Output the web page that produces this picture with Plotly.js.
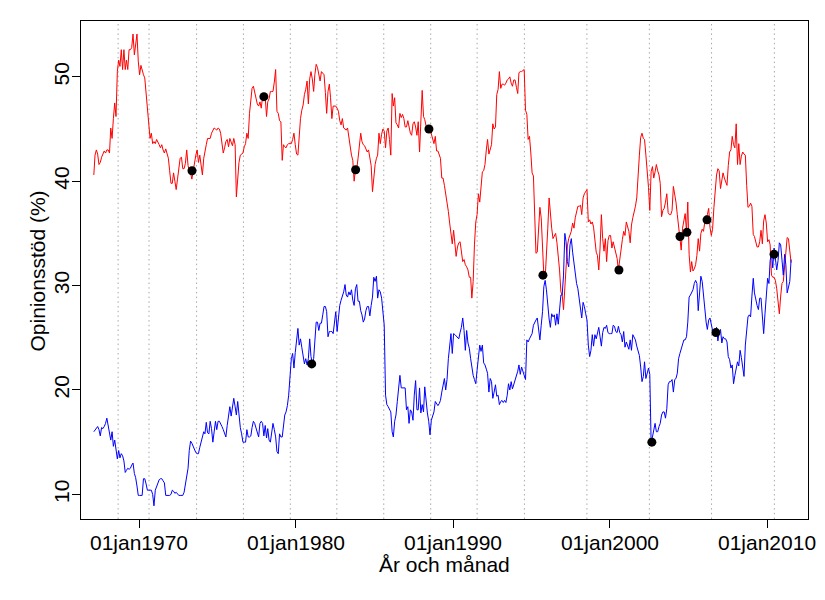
<!DOCTYPE html>
<html>
<head>
<meta charset="utf-8">
<script src="https://cdn.plot.ly/plotly-3.0.1.min.js"></script>
<style>html,body{margin:0;padding:0;background:#fff;}#chart{width:825px;height:600px;}</style>
</head>
<body>
<div id="chart"></div>
<script>
// Monthly poll series, first value = February 1967
const startYear = 1967;
const startMonth = 2;

// Red series (Socialdemokraterna), % support
const redSeries = [
  40.6, 42.5, 43.0, 42.6, 41.6, 41.8, 42.3, 42.6, 42.9, 42.7, 43.0,
  43.0, 42.7, 45.1, 44.1, 46.0, 47.5, 46.2, 50.5, 51.6, 51.0, 52.6, 50.7,
  52.6, 50.7, 51.6, 50.7, 52.6, 52.6, 52.8, 54.1, 52.1, 53.0, 54.1, 51.5,
  50.2, 51.1, 50.6, 50.2, 49.9, 48.6, 47.0, 45.4, 44.1, 44.6, 43.6, 43.8,
  43.6, 44.0, 43.8, 43.5, 43.2, 43.5, 43.0, 42.7, 43.1, 42.6, 42.2, 41.0,
  39.8, 39.8, 40.8, 40.0, 39.2, 40.2, 41.2, 42.2, 42.3, 41.2, 41.2, 41.7,
  43.0, 41.5, 41.0, 40.8, 40.2, 41.0, 42.0, 42.5, 43.0, 41.8, 42.5, 41.5,
  40.6, 42.2, 43.0, 43.5, 44.1, 44.1, 44.1, 44.6, 44.8, 45.1, 45.0, 44.9,
  45.1, 45.0, 44.6, 43.8, 42.7, 43.2, 43.8, 44.0, 43.3, 44.1, 43.6, 43.4,
  44.1, 43.5, 38.5, 40.3, 41.8, 42.5, 42.6, 42.7, 43.3, 43.6, 44.6, 44.1,
  46.5, 48.0, 48.9, 49.1, 48.6, 47.8, 47.4, 47.2, 47.6, 47.0, 48.1, 47.8,
  48.1, 46.2, 47.6, 47.9, 48.6, 48.6, 48.6, 49.5, 50.7, 46.7, 46.5, 45.8,
  45.7, 42.0, 43.5, 43.3, 43.2, 43.5, 43.6, 43.6, 43.6, 44.0, 44.6, 43.5,
  42.6, 42.5, 44.4, 46.0, 46.8, 47.3, 48.3, 48.8, 49.6, 47.4, 49.8, 50.5,
  49.8, 48.6, 50.2, 51.2, 50.9, 50.0, 49.6, 50.5, 50.3, 50.2, 48.5, 46.5,
  48.6, 49.3, 48.0, 46.0, 47.2, 47.2, 47.2, 47.0, 46.7, 45.8, 45.4, 46.0,
  45.1, 45.0, 44.9, 45.1, 44.2, 43.5, 42.5, 42.0, 40.0, 41.1, 41.2, 42.2,
  43.5, 44.6, 43.8, 43.5, 43.4, 43.0, 42.8, 43.0, 42.3, 41.5, 39.0, 40.5,
  41.6, 42.2, 42.5, 44.6, 43.6, 44.5, 45.0, 44.8, 43.2, 44.8, 45.1, 44.0,
  42.5, 48.4, 47.2, 48.0, 45.6, 45.4, 45.1, 46.5, 46.1, 46.4, 46.0, 45.2,
  45.2, 45.8, 45.3, 44.6, 44.4, 45.5, 45.7, 45.2, 44.4, 45.7, 42.8, 45.3,
  48.7, 46.2, 45.9, 45.3, 45.0, 44.8, 45.0, 44.5, 44.0, 43.6, 44.3, 42.9,
  42.9, 42.6, 42.2, 40.3, 40.3, 39.6, 38.9, 38.2, 37.1, 36.0, 34.6, 34.0,
  35.3, 33.5, 32.8, 33.7, 34.1, 34.2, 33.0, 32.3, 32.5, 32.0, 31.8, 31.5,
  30.8, 30.8, 28.8, 30.4, 33.9, 36.1, 36.8, 38.8, 38.0, 40.0, 40.9, 41.0,
  41.6, 43.0, 44.0, 42.6, 43.0, 43.5, 45.5, 45.0, 45.2, 48.3, 48.8, 50.5,
  48.9, 49.3, 49.3, 49.2, 49.4, 49.7, 49.8, 50.0, 49.4, 49.1, 49.7, 49.7,
  49.0, 48.4, 50.4, 50.5, 50.5, 50.6, 50.7, 46.8, 46.4, 44.0, 44.3, 42.8,
  40.8, 40.5, 36.0, 33.1, 33.2, 35.6, 37.5, 36.5, 33.0, 31.0, 30.7, 32.8,
  35.5, 38.4, 36.6, 35.5, 34.5, 34.8, 35.0, 34.1, 33.0, 31.5, 29.4, 29.1,
  27.7, 30.1, 32.0, 33.8, 34.5, 35.0, 35.2, 36.0, 35.5, 36.5, 37.2, 37.6,
  37.6, 37.7, 36.8, 38.4, 38.8, 39.0, 39.2, 36.1, 36.3, 35.9, 36.1, 35.6,
  34.5, 33.2, 32.9, 31.5, 33.6, 36.8, 34.5, 33.3, 34.5, 32.3, 34.3, 34.8,
  34.8, 33.6, 34.2, 33.6, 33.1, 32.6, 31.5, 32.5, 33.9, 34.4, 35.2, 34.8,
  36.1, 35.5, 35.2, 34.1, 35.8, 36.5, 37.0, 37.6, 38.4, 40.8, 42.5, 44.2,
  44.6, 44.1, 44.0, 42.5, 41.2, 39.4, 37.2, 40.9, 41.4, 40.3, 40.9, 41.6,
  41.0, 40.6, 39.8, 36.6, 37.2, 37.4, 38.0, 38.8, 37.0, 36.8, 36.8, 37.2,
  39.5, 38.9, 38.0, 36.8, 35.8, 34.7, 33.4, 35.5, 36.5, 36.9, 35.2, 38.0,
  33.0, 31.3, 32.3, 31.4, 31.6, 32.0, 32.9, 34.5, 33.3, 35.0, 35.4, 35.2,
  36.1, 36.4, 36.8, 37.4, 35.6, 34.8, 35.4, 37.5, 39.0, 40.6, 41.2, 41.0,
  39.3, 40.0, 40.8, 40.3, 40.0, 39.6, 41.5, 42.8, 43.0, 44.3, 43.5, 43.2,
  45.5, 41.6, 43.6, 41.6, 42.4, 42.8, 42.6, 42.5, 39.6, 37.5, 37.6, 37.9,
  37.6, 34.9, 34.7, 34.2, 33.7, 33.7, 34.2, 35.3, 34.0, 36.2, 36.8, 36.0,
  34.2, 34.4, 33.9, 31.0, 30.8, 30.8, 30.5, 29.7, 28.6, 27.3, 29.0, 30.2,
  30.4, 31.8, 32.9, 34.6, 34.5, 33.0, 32.2
];

// Blue series (Moderaterna), % support
const blueSeries = [
  16.0, 16.2, 16.3, 16.5, 16.2, 15.6, 16.4, 16.3, 16.5, 16.8, 17.3,
  16.5, 15.5, 15.2, 16.0, 14.6, 15.2, 14.4, 13.4, 14.2, 13.5, 13.9, 13.7,
  13.2, 12.1, 12.3, 12.5, 12.4, 12.5, 12.8, 13.0, 12.0, 11.6, 10.8, 9.9,
  9.9, 9.9, 9.9, 11.5, 11.5, 11.0, 10.4, 10.4, 10.4, 10.4, 10.0, 8.9,
  10.4, 10.8, 11.2, 11.4, 11.5, 11.5, 11.3, 11.1, 9.9, 9.9, 9.9, 9.9,
  10.0, 10.4, 10.3, 10.1, 10.2, 10.0, 9.9, 9.9, 9.9, 9.9, 10.2, 11.0,
  11.5, 12.5, 14.2, 15.1, 14.9, 14.6, 14.2, 14.0, 13.9, 13.9, 14.5, 15.0,
  15.5, 16.0, 15.8, 16.9, 15.9, 15.8, 17.0, 16.3, 15.0, 16.0, 17.0, 16.2,
  17.0, 17.0, 16.8, 16.5, 16.2, 15.8, 15.5, 16.6, 17.4, 18.4, 17.5, 18.2,
  19.2, 18.4, 17.6, 18.9, 17.4, 16.4, 15.8, 15.0, 15.0, 15.0, 16.2, 15.5,
  15.5, 15.6, 16.4, 17.0, 16.8, 16.3, 15.8, 15.5, 16.8, 17.0, 16.8, 15.6,
  16.6, 15.4, 16.3, 15.2, 15.0, 16.0, 16.8, 16.2, 15.5, 14.1, 13.9, 15.8,
  15.5, 15.5, 16.4, 17.6, 17.9, 18.5, 19.5, 21.1, 23.0, 23.5, 22.1, 23.6,
  25.1, 25.9, 24.3, 24.9, 24.1, 23.3, 22.5, 23.0, 22.4, 23.0, 24.9, 23.2,
  22.6, 23.0, 24.3, 26.5, 26.5, 25.7, 26.4, 26.4, 27.2, 28.0, 28.0, 27.5,
  25.1, 25.6, 25.6, 25.6, 25.4, 26.5, 27.5, 25.6, 26.9, 28.1, 28.6, 29.0,
  29.4, 30.1, 29.1, 28.9, 29.4, 29.1, 29.6, 28.6, 28.1, 29.7, 30.1, 28.5,
  28.5, 27.6, 27.2, 26.5, 26.8, 27.6, 28.0, 28.0, 27.1, 28.1, 28.9, 30.8,
  30.4, 30.9, 28.8, 29.6, 29.4, 28.8, 27.5, 26.2, 19.5, 18.6, 18.4, 18.1,
  17.9, 16.0, 15.5, 17.0, 17.6, 18.9, 20.1, 21.4, 20.2, 20.2, 20.2, 20.2,
  18.1, 18.4, 16.8, 18.1, 17.9, 17.1, 19.5, 20.9, 18.1, 18.1, 20.2, 17.8,
  18.6, 17.9, 20.3, 18.9, 17.8, 17.0, 15.7, 17.1, 17.5, 17.9, 18.9, 18.7,
  18.5, 18.7, 19.0, 19.8, 20.3, 21.1, 20.0, 21.0, 23.0, 24.3, 25.4, 23.5,
  25.4, 25.3, 25.2, 25.1, 24.9, 25.5, 26.0, 26.9, 25.7, 23.8, 25.7, 24.5,
  24.0, 23.0, 22.0, 21.4, 21.0, 20.6, 21.9, 23.0, 24.3, 23.7, 24.3, 22.6,
  22.4, 22.0, 21.6, 19.8, 21.1, 20.8, 19.2, 19.8, 20.5, 19.4, 19.5, 18.6,
  18.9, 19.0, 18.8, 19.0, 18.8, 19.5, 20.6, 20.0, 20.8, 20.1, 20.5, 21.0,
  21.3, 21.8, 22.4, 21.5, 22.2, 21.8, 21.3, 21.0, 24.8, 24.6, 24.9, 25.1,
  25.4, 26.2, 26.5, 26.7, 26.9, 26.0, 24.8, 26.2, 27.5, 29.9, 30.5, 29.6,
  28.0, 26.8, 26.0, 27.3, 27.0, 27.2, 26.2, 27.3, 26.3, 27.5, 29.1, 29.1,
  31.0, 35.0, 34.2, 32.3, 31.8, 33.9, 34.5, 33.2, 32.0, 31.2, 30.2, 29.7,
  28.8, 28.0, 26.9, 28.4, 28.0, 27.3, 26.7, 24.3, 23.2, 23.8, 25.3, 24.2,
  25.3, 24.9, 25.6, 26.0, 25.1, 24.2, 25.5, 26.0, 25.9, 26.2, 25.5, 25.4,
  25.4, 25.4, 26.2, 26.1, 25.6, 25.5, 26.1, 25.5, 25.3, 24.6, 25.6, 24.1,
  24.6, 24.1, 23.9, 24.8, 23.8, 25.3, 25.0, 24.8, 24.2, 23.6, 23.3, 22.2,
  20.8, 21.3, 22.7, 21.1, 21.7, 22.1, 21.5, 15.0, 15.5, 16.3, 16.8, 16.0,
  16.0, 16.5, 16.8, 17.6, 17.9, 17.9, 17.3, 18.2, 20.5, 20.8, 20.8, 21.0,
  19.8, 21.0, 21.1, 21.6, 23.0, 23.5, 24.0, 24.3, 24.8, 24.8, 25.1, 26.5,
  28.9, 29.1, 29.3, 29.6, 30.2, 30.5, 30.2, 27.6, 29.3, 30.9, 30.4, 29.0,
  28.0, 26.5, 25.8, 26.7, 26.9, 26.2, 25.7, 25.6, 25.5, 26.0, 24.7, 25.5,
  25.8, 24.5, 25.1, 24.9, 24.9, 24.6, 23.2, 22.9, 22.1, 22.4, 20.6, 21.4,
  22.2, 22.7, 22.3, 23.8, 23.1, 22.0, 21.3, 24.3, 26.0, 27.0, 27.2, 27.0,
  29.0, 30.7, 29.3, 28.5, 28.1, 27.7, 28.8, 28.8, 26.5, 25.4, 27.3, 29.5,
  30.7, 30.2, 32.4, 33.1, 31.7, 33.6, 32.2, 31.5, 32.4, 34.1, 33.9, 32.7,
  31.0, 33.0, 32.0, 29.3, 30.0, 30.4, 32.5
];

// Black event markers
const eventDates = ["1973-05-18", "1977-12-15", "1981-01-01", "1983-10-20", "1988-06-20",
  "1995-09-24", "2000-07-27", "2002-09-01", "2004-06-17", "2004-11-25",
  "2006-03-07", "2006-10-01", "2010-06-13"];
const eventValues = [41.0, 48.1, 22.5, 41.1, 45.0, 31.0, 31.5, 15.0, 34.7, 35.1, 36.3, 25.5, 33.0];

// Dotted vertical reference lines (election dates)
const electionDates = ["1968-09-02", "1970-08-22", "1973-09-02", "1976-08-26", "1979-08-22",
  "1982-08-08", "1985-08-04", "1988-07-31", "1991-07-16", "1994-07-20",
  "1998-07-13", "2002-07-05", "2006-06-21", "2010-06-21"];

// Axis ticks and titles
const tickDates = ["1970-01-01", "1980-01-01", "1990-01-01", "2000-01-01", "2010-01-01"];
const tickLabels = ["01jan1970", "01jan1980", "01jan1990", "01jan2000", "01jan2010"];
const yTicks = [10, 20, 30, 40, 50];
const xTitle = "År och månad";
const yTitle = "Opinionsstöd (%)";

function monthDates(n) {
  const out = [];
  for (let i = 0; i < n; i++) {
    const idx = startMonth - 1 + i;
    const y = startYear + Math.floor(idx / 12);
    const m = (idx % 12) + 1;
    out.push(y + "-" + String(m).padStart(2, "0") + "-15");
  }
  return out;
}
function decToDate(d) {
  const y = Math.floor(d);
  const t0 = Date.UTC(y, 0, 1), t1 = Date.UTC(y + 1, 0, 1);
  const t = t0 + (d - y) * (t1 - t0);
  return new Date(t).toISOString().slice(0, 19).replace("T", " ");
}

const FONT = "Liberation Sans, Arial, Helvetica, sans-serif";
const txt = {family: FONT, size: 21, color: "#000"};

const traces = [
  {x: monthDates(redSeries.length), y: redSeries, type: "scatter", mode: "lines",
   line: {color: "#ff0000", width: 1}, hoverinfo: "skip"},
  {x: monthDates(blueSeries.length), y: blueSeries, type: "scatter", mode: "lines",
   line: {color: "#0000ff", width: 1}, hoverinfo: "skip"},
  {x: eventDates, y: eventValues, type: "scatter", mode: "markers",
   marker: {color: "#000000", size: 9}, hoverinfo: "skip"}
];

const shapes = electionDates.map(d => ({
  type: "line", xref: "x", yref: "paper", x0: d, x1: d, y0: 0, y1: 1,
  line: {color: "#a8a8a8", width: 1, dash: "1.5px,3.2px"}, layer: "below"
}));

const layout = {
  width: 825, height: 600,
  margin: {l: 81, r: 17, t: 21, b: 81},
  paper_bgcolor: "#ffffff", plot_bgcolor: "#ffffff",
  showlegend: false,
  font: txt,
  xaxis: {
    type: "date",
    range: [decToDate(1966.306), decToDate(2012.611)],
    tickmode: "array", tickvals: tickDates, ticktext: tickLabels,
    ticks: "outside", ticklen: 8, tickwidth: 1, tickcolor: "#000",
    ticklabelstandoff: -3,
    showgrid: false, zeroline: false,
    showline: true, mirror: true, linecolor: "#000", linewidth: 1,
    tickfont: txt,
    automargin: false
  },
  yaxis: {
    range: [7.64, 55.35],
    tickmode: "array", tickvals: yTicks,
    ticks: "outside", ticklen: 8, tickwidth: 1, tickcolor: "#000",
    tickangle: -90,
    ticklabelstandoff: -5,
    showgrid: false, zeroline: false,
    showline: true, mirror: true, linecolor: "#000", linewidth: 1,
    tickfont: txt,
    automargin: false
  },
  annotations: [
    {text: xTitle, xref: "paper", yref: "paper", x: 0.5, y: -45 / 498,
     xanchor: "center", yanchor: "middle", showarrow: false, font: txt},
    {text: yTitle, xref: "paper", yref: "paper", x: -44 / 727, y: 0.497,
     xanchor: "center", yanchor: "middle", textangle: -90, showarrow: false, font: txt}
  ],
  shapes: shapes
};

Plotly.newPlot("chart", traces, layout, {staticPlot: true, displayModeBar: false});
</script>
</body>
</html>
